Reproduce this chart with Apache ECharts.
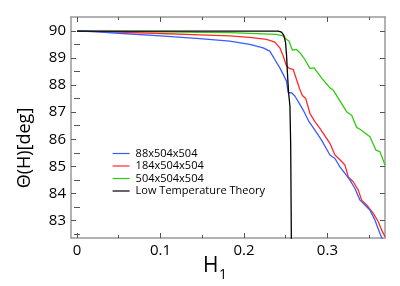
<!DOCTYPE html>
<html>
<head>
<meta charset="utf-8">
<script src="https://cdn.jsdelivr.net/npm/echarts@6/dist/echarts.min.js"></script>
<style>html,body{margin:0;padding:0;background:#fff;}#c{width:400px;height:286px;}</style>
</head>
<body>
<div id="c"></div>
<script>
// ---- data ----
const seriesNames = ['88x504x504', '184x504x504', '504x504x504', 'Low Temperature Theory'];

const blueH = [0, 0.02, 0.05, 0.1, 0.147, 0.183, 0.207, 0.223, 0.231, 0.237, 0.243, 0.247, 0.251, 0.253, 0.257, 0.261, 0.267, 0.271, 0.278, 0.285, 0.293, 0.303, 0.309, 0.315, 0.321, 0.327, 0.333, 0.339, 0.345, 0.351, 0.357, 0.363, 0.366];
const blueTheta = [90, 89.98, 89.92, 89.82, 89.72, 89.63, 89.51, 89.38, 89.26, 88.95, 88.64, 88.40, 88.15, 87.72, 87.72, 87.60, 87.29, 87.08, 86.65, 86.34, 85.97, 85.42, 85.29, 84.98, 84.74, 84.49, 84.18, 83.75, 83.57, 83.38, 83.01, 82.52, 82.3];

const redH = [0, 0.05, 0.1, 0.147, 0.183, 0.207, 0.227, 0.237, 0.243, 0.247, 0.251, 0.255, 0.259, 0.263, 0.267, 0.270, 0.274, 0.279, 0.285, 0.291, 0.295, 0.303, 0.309, 0.315, 0.321, 0.325, 0.331, 0.337, 0.341, 0.347, 0.355, 0.361, 0.365, 0.369];
const redTheta = [90, 89.96, 89.91, 89.86, 89.82, 89.77, 89.69, 89.59, 89.38, 89.08, 88.71, 88.61, 88.58, 88.21, 87.84, 87.62, 87.51, 86.96, 86.65, 86.40, 86.22, 85.85, 85.42, 85.24, 85.05, 84.61, 84.43, 84.12, 83.75, 83.57, 83.26, 82.95, 82.64, 82.40];

const greenH = [0, 0.1, 0.147, 0.183, 0.239, 0.247, 0.251, 0.254, 0.258, 0.263, 0.267, 0.273, 0.279, 0.284, 0.295, 0.303, 0.307, 0.323, 0.329, 0.335, 0.339, 0.351, 0.358, 0.363, 0.369];
const greenTheta = [90, 89.97, 89.95, 89.94, 89.88, 89.82, 89.69, 89.63, 89.30, 89.32, 89.20, 88.95, 88.62, 88.64, 88.19, 87.90, 87.82, 87.02, 86.89, 86.44, 86.37, 86.09, 85.60, 85.54, 85.05];

const theoryH = [0, 0.1, 0.2, 0.241, 0.245, 0.2478, 0.2499, 0.2511, 0.2523, 0.2535, 0.2551, 0.2560, 0.2568];
const theoryTheta = [90, 90, 90, 90, 89.96, 89.84, 89.57, 89.08, 88.34, 87.72, 87.23, 85.8, 82.3];

const xMajorTicks = [0, 0.1, 0.2, 0.3];
const xTickLabels = ['0', '0.1', '0.2', '0.3'];
const xMinorTicks = [0.05, 0.15, 0.25, 0.35];
const yMajorTicks = [83, 84, 85, 86, 87, 88, 89, 90];
const yTickLabels = ['83', '84', '85', '86', '87', '88', '89', '90'];
const yMinorTicks = [82.5, 83.5, 84.5, 85.5, 86.5, 87.5, 88.5, 89.5];

const xTitle = 'H';
const xTitleSub = '1';
const yTitle = 'Θ(H)[deg]';

// ---- chart ----
const FONT = '"Open Sans", "DejaVu Sans", sans-serif';
const X_MIN = -0.0072, X_MAX = 0.369;
const Y_MIN = 82.35, Y_MAX = 90.52;
const frame = { show: true, onZero: false, lineStyle: { color: '#999', width: 1.5 } };
const noLine = { show: false };

function zip(a, b) { return a.map((v, i) => [v, b[i]]); }

function xAxisDef(position, ticks, len, showLine, labels) {
  return {
    type: 'value', min: X_MIN, max: X_MAX, position: position, gridIndex: 0,
    axisLine: showLine ? frame : noLine,
    axisTick: { show: true, inside: true, length: len, customValues: ticks, lineStyle: { color: '#555', width: 1 } },
    axisLabel: labels ? {
      show: true, customValues: ticks, margin: 5, fontSize: 15, fontFamily: FONT, color: '#000',
      formatter: v => { const i = xMajorTicks.findIndex(t => Math.abs(t - v) < 1e-9); return i >= 0 ? xTickLabels[i] : ''; }
    } : { show: false },
    splitLine: { show: false }
  };
}
function yAxisDef(position, ticks, len, showLine, labels) {
  return {
    type: 'value', min: Y_MIN, max: Y_MAX, position: position, gridIndex: 0,
    axisLine: showLine ? frame : noLine,
    axisTick: { show: true, inside: true, length: len, customValues: ticks, lineStyle: { color: '#555', width: 1 } },
    axisLabel: labels ? {
      show: true, customValues: ticks, margin: 5, fontSize: 15, fontFamily: FONT, color: '#000',
      formatter: v => { const i = yMajorTicks.findIndex(t => Math.abs(t - v) < 1e-9); return i >= 0 ? yTickLabels[i] : ''; }
    } : { show: false },
    splitLine: { show: false }
  };
}

const colors = ['#3a5cff', '#ff2a2a', '#2ecc10', '#000000'];
const datasets = [zip(blueH, blueTheta), zip(redH, redTheta), zip(greenH, greenTheta), zip(theoryH, theoryTheta)];

const chart = echarts.init(document.getElementById('c'), null, { renderer: 'canvas' });
chart.setOption({
  animation: false,
  backgroundColor: '#fff',
  grid: { left: 71, right: 15, top: 17, bottom: 48 },
  xAxis: [
    xAxisDef('bottom', xMajorTicks, 5, true, true),
    xAxisDef('bottom', xMinorTicks, 3, false, false),
    xAxisDef('top', xMajorTicks, 5, true, false),
    xAxisDef('top', xMinorTicks, 3, false, false)
  ],
  yAxis: [
    yAxisDef('left', yMajorTicks, 5, true, true),
    yAxisDef('left', yMinorTicks, 3, false, false),
    yAxisDef('right', yMajorTicks, 5, true, false),
    yAxisDef('right', yMinorTicks, 3, false, false)
  ],
  legend: {
    show: true, orient: 'vertical', left: 107, top: 143,
    itemWidth: 17, itemHeight: 10, itemGap: 1.5,
    data: seriesNames,
    itemStyle: { opacity: 0 },
    lineStyle: { width: 1.2 },
    textStyle: { fontSize: 11, fontFamily: FONT, color: '#000', padding: [0, 0, 0, 1] }
  },
  series: seriesNames.map((name, i) => ({
    name: name, type: 'line', xAxisIndex: 0, yAxisIndex: 0,
    data: datasets[i], symbol: 'none', showSymbol: false,
    lineStyle: { color: colors[i], width: 1.3 }, itemStyle: { color: colors[i] },
    z: i === 3 ? 5 : 3 - i
  })),
  graphic: [
    { type: 'text', x: 25, y: 148, rotation: Math.PI / 2,
      style: { text: yTitle, fontSize: 18, fontFamily: FONT, fill: '#000', align: 'center', verticalAlign: 'middle' } },
    { type: 'text', x: 203, y: 266,
      style: { text: xTitle, fontSize: 21, fontFamily: FONT, fill: '#000', align: 'left', verticalAlign: 'middle' } },
    { type: 'text', x: 219, y: 275,
      style: { text: xTitleSub, fontSize: 14, fontFamily: FONT, fill: '#000', align: 'left', verticalAlign: 'middle' } }
  ]
});
</script>
</body>
</html>
